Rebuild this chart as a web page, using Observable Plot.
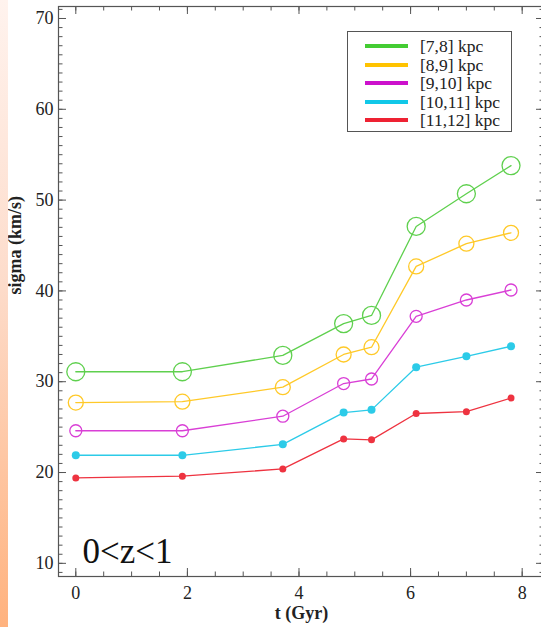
<!DOCTYPE html>
<html>
<head>
<meta charset="utf-8">
<script src="https://cdn.jsdelivr.net/npm/d3@7"></script>
<script src="https://cdn.jsdelivr.net/npm/@observablehq/plot@0.6"></script>
<style>
  html, body { margin: 0; padding: 0; background: #fff; overflow: hidden; }
  #wrap { position: relative; width: 541px; height: 627px; overflow: hidden; }
  #chart { position: absolute; left: 0; top: 0; width: 550px; }
  #chart svg { display: block; max-width: none !important; width: 550px; height: 627px; }
  #chart svg, #chart svg text { font-family: "Liberation Serif", "Times New Roman", serif !important; }
  #edge { position: absolute; left: 0; top: 0; width: 8px; height: 627px;
          background: linear-gradient(to bottom, #fff3ee, #fddccb 45%, #ffb27e); }
  #legend { position: absolute; left: 347px; top: 31px; width: 165px; height: 101px;
            border: 1px solid #555; background: #fff; box-sizing: border-box;
            font-family: "Liberation Serif", "Times New Roman", serif; font-size: 17.5px; line-height: 16px; color: #222; }
  .row { position: absolute; left: 17px; height: 16px; display: flex; align-items: center; white-space: nowrap; }
  .sw { width: 43px; height: 4px; margin-right: 12px; flex: none; }
</style>
</head>
<body>
<div id="wrap">
  <div id="chart"></div>
  <div id="edge"></div>
  <div id="legend"></div>
</div>
<script>
// Sampling times (Gyr)
const times = [0, 1.91, 3.71, 4.80, 5.30, 6.10, 7.00, 7.80];

// Velocity dispersion (km/s) in each radial bin
const sigma7to8   = [31.1, 31.1, 32.9, 36.4, 37.3, 47.1, 50.7, 53.8];
const sigma8to9   = [27.7, 27.8, 29.4, 33.0, 33.8, 42.7, 45.2, 46.4];
const sigma9to10  = [24.6, 24.6, 26.2, 29.8, 30.3, 37.2, 39.0, 40.1];
const sigma10to11 = [21.9, 21.9, 23.1, 26.6, 26.9, 31.6, 32.8, 33.9];
const sigma11to12 = [19.4, 19.6, 20.4, 23.7, 23.6, 26.5, 26.7, 28.2];

const binNames   = ["[7,8] kpc", "[8,9] kpc", "[9,10] kpc", "[10,11] kpc", "[11,12] kpc"];
const binColors  = ["#5fd04e", "#ffc928", "#d93fd6", "#2ccbe8", "#ee3340"];
const legendColors = ["#44cc33", "#ffc300", "#cc11cc", "#11c8e8", "#ee2233"];
const markerR    = [9, 7.5, 6, 4, 3.5];
const markerFill = [false, false, false, true, true];

const xTicks = [0, 2, 4, 6, 8];
const yTicks = [10, 20, 30, 40, 50, 60, 70];
const xMinor = d3.range(0, 8.01, 0.5);
const yMinor = d3.range(9, 72, 1);

const redshiftLabel = "0<z<1";

const allSeries = [sigma7to8, sigma8to9, sigma9to10, sigma10to11, sigma11to12];
const rows = allSeries.flatMap((vals, k) =>
  times.map((t, j) => ({ k, bin: binNames[k], t, sigma: vals[j] })));

const W = 550, H = 627;
const mL = 58, mR = 6, mT = 6, mB = 51;
const plotW = W - mL - mR, plotH = H - mT - mB;
const axisColor = "#555";
const serif = "Liberation Serif, Times New Roman, serif";

const seriesMarks = allSeries.flatMap((_, k) => {
  const data = rows.filter(d => d.k === k);
  return [
    Plot.line(data, { x: "t", y: "sigma", stroke: binColors[k], strokeWidth: 1.3 }),
    markerFill[k]
      ? Plot.dot(data, { x: "t", y: "sigma", r: markerR[k], fill: binColors[k], stroke: "none" })
      : Plot.dot(data, { x: "t", y: "sigma", r: markerR[k], fill: "none", stroke: binColors[k], strokeWidth: 1.3 })
  ];
});

const chart = Plot.plot({
  width: W, height: H,
  marginLeft: mL, marginRight: mR, marginTop: mT, marginBottom: mB,
  style: { fontFamily: serif, background: "transparent", color: "#222" },
  x: { domain: [-0.31, 8.40] },
  y: { domain: [8.55, 71.32] },
  marks: [
    // inward ticks on all four sides
    Plot.tickX(xMinor, { x: d => d, insetTop: plotH - 4.5, stroke: axisColor }),
    Plot.tickX(xMinor, { x: d => d, insetBottom: plotH - 4.5, stroke: axisColor }),
    Plot.tickX(xTicks, { x: d => d, insetTop: plotH - 8, stroke: axisColor }),
    Plot.tickX(xTicks, { x: d => d, insetBottom: plotH - 8, stroke: axisColor }),
    Plot.tickY(yMinor, { y: d => d, insetRight: plotW - 4.5, stroke: axisColor }),
    Plot.tickY(yMinor, { y: d => d, insetLeft: plotW - 4.5, stroke: axisColor }),
    Plot.tickY(yTicks, { y: d => d, insetRight: plotW - 8, stroke: axisColor }),
    Plot.tickY(yTicks, { y: d => d, insetLeft: plotW - 8, stroke: axisColor }),
    Plot.frame({ stroke: axisColor, strokeWidth: 1.2 }),
    Plot.axisX(xTicks, { tickSize: 0, tickPadding: 10, fontSize: 18, fontFamily: serif, label: null }),
    Plot.axisY(yTicks, { tickSize: 0, tickPadding: 5, fontSize: 18, fontFamily: serif, label: null }),
    Plot.text(["sigma (km/s)"], { frameAnchor: "left", dx: -43, dy: 3, rotate: -90,
      fontSize: 18, fontWeight: "bold", fontFamily: serif, fill: "#222" }),
    Plot.text(["t (Gyr)"], { frameAnchor: "bottom", dy: 37, lineAnchor: "middle",
      fontSize: 18, fontWeight: "bold", fontFamily: serif, fill: "#222" }),
    Plot.text([redshiftLabel], { x: 0.12, y: 10, text: d => d, textAnchor: "start",
      lineAnchor: "bottom", fontSize: 35, fontFamily: serif, fill: "#111" }),
    ...seriesMarks
  ]
});
document.getElementById("chart").appendChild(chart);

// legend box, one row per radial bin
const legend = document.getElementById("legend");
const rowStep = 18.6, firstRow = 14;
binNames.forEach((name, k) => {
  const row = document.createElement("div");
  row.className = "row";
  row.style.top = (firstRow + k * rowStep - 8) + "px";
  const sw = document.createElement("div");
  sw.className = "sw";
  sw.style.background = legendColors[k];
  const label = document.createElement("span");
  label.textContent = name;
  row.appendChild(sw);
  row.appendChild(label);
  legend.appendChild(row);
});
</script>
</body>
</html>
